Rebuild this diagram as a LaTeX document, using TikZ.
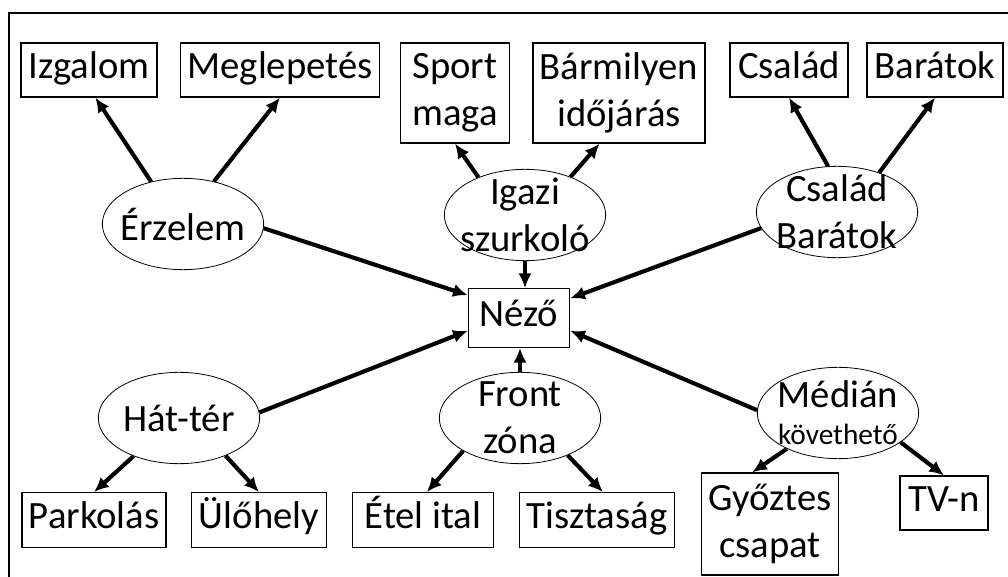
\documentclass[tikz,border=0pt]{standalone}
\usepackage{fontspec}
\setmainfont{Carlito}
\usetikzlibrary{shapes.geometric,arrows.meta}

\begin{document}
\begin{tikzpicture}[
	x=0.75pt, y=-0.75pt,
	font=\fontsize{29}{35}\selectfont,
	rec/.style  = {draw, rectangle, line width=0.9pt, inner sep=2pt, align=center},
	one/.style  = {rec, text height=19pt, text depth=6pt},
	oval/.style = {draw, ellipse, line width=0.6pt, inner sep=0pt, minimum width=121pt, minimum height=68.5pt,
		label={[anchor=center, align=center]center:{#1}}},
	edge/.style = {->, line width=3.1pt},
	>={Latex[length=11pt,width=10pt]}]
	
	\useasboundingbox (0,0) rectangle (1008,577);
	\draw[line width=1.5pt] (9,577) -- (9,13) -- (1008,13);
	
	% the centre of the map
	\node[one, minimum width=76pt, minimum height=44pt] (nezo) at (519,318) {Néző};
	
	% the six groups round it
	\node[oval=Érzelem] (erzelem) at (183,224) {};
	\node[oval={Igazi\\szurkoló}] (igazi) at (525,215) {};
	\node[oval={Család\\Barátok}] (csbar) at (837,212) {};
	\node[oval=Hát-tér] (hatter) at (179,418) {};
	\node[oval={Front\\zóna}] (front) at (520,418) {};
	\node[oval={Médián\\[-7pt]{\fontsize{22}{24}\selectfont követhető}}] (media) at (838,413) {};
	
	% upper row of boxes
	\node[one, minimum width=102pt, minimum height=40.5pt] (izgalom) at (89,70) {Izgalom};
	\node[one, minimum width=149pt, minimum height=40.5pt] (meglepetes) at (280,70) {Meglepetés};
	\node[rec, minimum width=82pt, minimum height=75pt] (sport) at (455,93) {Sport\\maga};
	\node[rec, minimum width=129pt, minimum height=75pt] (idojaras) at (619,93) {Bármilyen\\időjárás};
	\node[one, minimum width=88.5pt, minimum height=40.5pt] (csalad) at (789,70) {Család};
	\node[one, minimum width=102pt, minimum height=40.5pt] (baratok) at (935,70) {Barátok};
	
	% lower row of boxes
	\node[one, minimum width=108pt, minimum height=41pt] (parkolas) at (94,520) {Parkolás};
	\node[one, minimum width=101pt, minimum height=41pt] (ulohely) at (259,520) {Ülőhely};
	\node[one, minimum width=106pt, minimum height=41pt] (etel) at (423,520) {Étel ital};
	\node[one, minimum width=116pt, minimum height=41pt] (tisztasag) at (597,520) {Tisztaság};
	\node[rec, minimum width=103pt, minimum height=76.5pt] (gyoztes) at (770,524) {Győztes\\csapat};
	\node[one, minimum width=66pt, minimum height=40.5pt] (tvn) at (944,503) {TV-n};
	
	% arrows from each group
	\foreach \from/\to in {erzelem.127/izgalom.283, erzelem.54/meglepetes.south, erzelem.357/nezo.156,
		igazi.141/sport.south, igazi.40/idojaras.249,
		csbar.101/csalad.south, csbar.43/baratok.south, csbar.192/nezo.21,
		hatter.4/nezo.194, hatter.220/parkolas.north, hatter.321/ulohely.north,
		front.210/etel.82, front.322/tisztasag.78,
		media.178/nezo.346, media.215/gyoztes.109, media.335/tvn.north}
	\draw[edge] (\from) -- (\to);
	
	\draw[edge] (igazi.south) -- (igazi.south |- nezo.north);
	\draw[edge] (front.north) -- (front.north |- nezo.south);
\end{tikzpicture}
\end{document}
